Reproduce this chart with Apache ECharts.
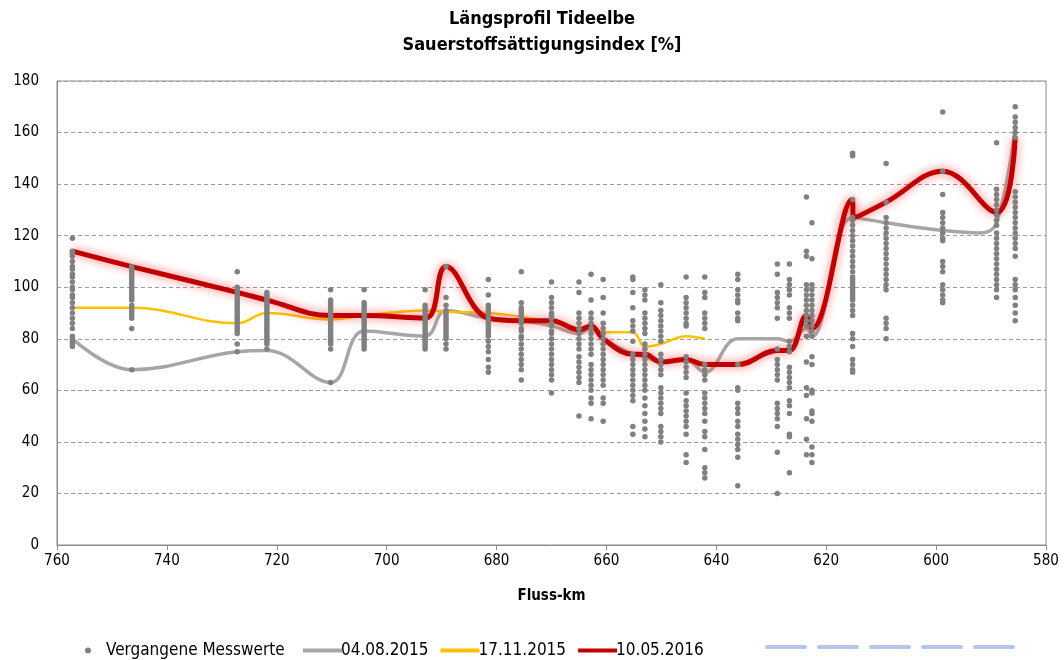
<!doctype html>
<html>
    <head>
        <meta charset="utf-8">
        <title>Längsprofil Tideelbe</title>
        <style>
            html, body { margin: 0; padding: 0; background: #fff; }
            #main { width: 1064px; height: 660px; }
        </style>
    </head>
    <body>
        <div id="main"></div>
        <script src="https://cdn.jsdelivr.net/npm/echarts@6/dist/echarts.min.js"></script>
        <script>
            // Messstellen (Fluss-km) der vergangenen Messwerte
            var stationKm = [757.2, 746.4, 727.2, 721.8, 710.2, 704.1, 693.0, 689.2, 681.5, 675.5,
                670.0, 665.0, 662.8, 660.6, 655.2, 653.0, 650.1, 645.5, 642.1, 636.1,
                628.9, 626.7, 623.6, 622.6, 615.2, 609.1, 598.8, 589.0, 585.6];

            // Vergangene Messwerte je Messstelle (gleiche Reihenfolge wie stationKm)
            var pastValues = [
                [119, 114, 113, 112, 110, 108, 107, 105, 104, 102, 100, 99, 97, 96, 94, 92, 90, 88, 86, 84, 81, 80, 79, 78, 77],
                [108, 107, 106, 105, 104, 103, 102, 101, 100, 99, 98, 97, 96, 95, 93, 92, 91, 90, 89, 88, 84, 68],
                [106, 100, 99, 98, 97, 96, 95, 94, 93, 92, 91, 90, 89, 88, 87, 86, 85, 84, 83, 82, 78, 75],
                [98, 97, 96, 95, 94, 93, 92, 91, 90, 89, 88, 87, 86, 85, 84, 83, 82, 81, 80, 79, 78, 76],
                [99, 95, 94, 93, 92, 91, 90, 89, 88, 87, 86, 85, 84, 83, 82, 81, 80, 79, 78, 76, 63],
                [99, 94, 93, 92, 91, 90, 89, 88, 87, 86, 85, 84, 83, 82, 81, 80, 79, 78, 77, 76],
                [99, 93, 92, 91, 90, 89, 88, 87, 86, 85, 84, 83, 82, 81, 80, 79, 78, 77, 76],
                [108, 96, 93, 91, 90, 89, 88, 87, 86, 85, 84, 83, 82, 81, 80, 78, 76],
                [103, 97, 93, 92, 91, 90, 89, 88, 87, 86, 85, 84, 83, 82, 81, 79, 77, 75, 72, 69, 67],
                [106, 94, 92, 91, 90, 89, 88, 87, 86, 84, 83, 81, 80, 78, 76, 74, 72, 70, 68, 64],
                [102, 96, 94, 92, 90, 89, 88, 86, 85, 83, 82, 80, 78, 76, 74, 72, 70, 68, 66, 64, 59],
                [102, 98, 90, 88, 86, 84, 82, 80, 78, 76, 73, 71, 69, 67, 65, 63, 50],
                [105, 95, 90, 88, 86, 84, 82, 80, 78, 76, 74, 70, 68, 66, 64, 62, 60, 57, 55, 49],
                [103, 96, 90, 86, 84, 82, 80, 78, 76, 74, 72, 70, 68, 66, 64, 62, 57, 55, 48],
                [104, 103, 98, 92, 87, 85, 83, 79, 74, 72, 70, 68, 66, 64, 62, 60, 58, 56, 46, 43],
                [99, 97, 95, 90, 88, 86, 84, 82, 78, 76, 74, 72, 70, 68, 66, 64, 62, 60, 57, 54, 51, 48, 45, 42],
                [101, 94, 91, 89, 87, 85, 83, 81, 79, 74, 72, 70, 68, 66, 61, 59, 57, 55, 53, 51, 46, 44, 42, 40],
                [104, 96, 94, 92, 90, 88, 86, 85, 73, 71, 69, 67, 65, 59, 56, 54, 52, 50, 48, 46, 43, 35, 32],
                [104, 98, 96, 90, 88, 86, 84, 70, 68, 66, 64, 59, 57, 55, 53, 51, 48, 44, 42, 37, 30, 28, 26],
                [105, 103, 99, 97, 95, 94, 90, 88, 87, 70, 61, 60, 55, 53, 51, 48, 46, 43, 41, 39, 37, 34, 23],
                [109, 105, 98, 96, 94, 92, 88, 76, 72, 70, 68, 66, 64, 55, 53, 51, 49, 46, 36, 20],
                [109, 103, 101, 99, 97, 92, 90, 88, 79, 77, 75, 69, 67, 65, 63, 61, 56, 54, 51, 43, 42, 28],
                [135, 114, 112, 101, 99, 97, 95, 93, 91, 89, 87, 85, 81, 71, 61, 58, 49, 41, 35],
                [125, 111, 101, 99, 97, 95, 93, 91, 89, 87, 85, 83, 81, 73, 70, 60, 59, 52, 51, 48, 38, 35, 32],
                [152, 151, 134, 127, 126, 124, 122, 120, 118, 116, 114, 112, 110, 108, 106, 104, 103, 102, 101, 100,
                    99, 98, 97, 96, 95, 93, 91, 89, 82, 80, 77, 72, 70, 68, 67],
                [148, 133, 127, 125, 123, 121, 119, 117, 115, 113, 111, 109, 107, 105, 103, 101, 99, 88, 86, 84, 80],
                [168, 145, 136, 129, 127, 125, 123, 121, 119, 118, 110, 108, 106, 101, 99, 97, 95, 94],
                [156, 138, 136, 134, 132, 130, 128, 126, 124, 121, 119, 117, 115, 113, 111, 109, 107, 105, 103, 101, 99, 96],
                [170, 166, 164, 162, 160, 158, 137, 135, 133, 131, 129, 127, 125, 123, 121, 119, 117, 115, 112,
                    103, 101, 99, 96, 93, 90, 87]
            ];

            // 04.08.2015
            var km20150804 = [757.2, 746.4, 727.2, 721.8, 710.2, 704.1, 693.0, 689.2, 681.5, 675.5, 670.0, 665.0,
                662.8, 660.6, 655.2, 653.0, 650.1, 645.5, 642.1, 636.1, 628.9, 626.7, 623.6, 622.6, 615.2, 609.1,
                598.8, 592.0, 589.0, 585.6];
            var val20150804 = [80, 68, 75, 75.5, 63, 83, 81, 91, 88, 87, 85, 82, 84, 80, 74, 73, 71, 72, 67, 80, 80,
                79, 84, 81, 127, 125, 122, 121, 125, 162];

            // 17.11.2015
            var km20151117 = [757.2, 746.4, 727.2, 721.8, 710.2, 704.1, 693.0, 689.2, 681.5, 675.5, 670.0, 665.0,
                662.8, 660.6, 655.2, 653.0, 650.1, 645.5, 642.1];
            var val20151117 = [92, 92, 86, 90, 87.5, 89, 91, 90.5, 90, 88.5, 86.5, 84, 84, 82.5, 82.5, 77, 78, 81, 80];

            // 10.05.2016
            var km20160510 = [757.2, 746.4, 727.2, 721.8, 710.2, 704.1, 693.0, 689.2, 681.5, 675.5, 670.0, 665.0,
                662.8, 660.6, 655.2, 653.0, 650.1, 645.5, 642.1, 636.1, 628.9, 626.7, 623.6, 622.6, 615.3, 615.0,
                609.1, 598.8, 589.0, 585.6];
            var val20160510 = [114, 108, 98, 95, 89, 89, 88, 108, 88, 87, 87, 83.5, 85, 80, 74, 74, 71, 72, 70, 70,
                75.5, 75.5, 89, 84, 134, 127, 133, 145, 129, 158];

            function pairs(xs, ys) {
                return xs.map(function (x, i) { return [x, ys[i]]; });
            }

            var scatterData = [];
            stationKm.forEach(function (km, i) {
                pastValues[i].forEach(function (v) { scatterData.push([km, v]); });
            });

            var font = '"Liberation Sans Narrow", "DejaVu Sans Condensed", Roboto, sans-serif';
            var chart = echarts.init(document.getElementById('main'));

            chart.setOption({
                animation: false,
                backgroundColor: '#fff',
                textStyle: { fontFamily: font },
                title: {
                    text: 'Längsprofil Tideelbe\nSauerstoffsättigungsindex [%]',
                    left: 537,
                    textAlign: 'center',
                    top: 1,
                    textStyle: {
                        fontFamily: font,
                        fontSize: 18,
                        fontWeight: 'bold',
                        color: '#000',
                        lineHeight: 26
                    }
                },
                grid: {
                    left: 57,
                    right: 18,
                    top: 81,
                    bottom: 115,
                    show: true,
                    borderColor: '#8c8c8c',
                    borderWidth: 1
                },
                legend: [{
                    left: 80,
                    top: 637,
                    itemWidth: 6,
                    itemHeight: 6,
                    textStyle: { fontSize: 17, color: '#000', fontFamily: font, padding: [0, 0, 0, 10] },
                    data: [{ name: 'Vergangene Messwerte', icon: 'circle' }]
                }, {
                    left: 298,
                    top: 637,
                    itemWidth: 39,
                    itemHeight: 4,
                    itemGap: 12,
                    icon: 'rect',
                    textStyle: { fontSize: 17, color: '#000', fontFamily: font, padding: [0, 0, 0, -6] },
                    data: ['04.08.2015', '17.11.2015', '10.05.2016']
                }],
                xAxis: {
                    type: 'value',
                    inverse: true,
                    min: 580,
                    max: 760,
                    interval: 20,
                    name: 'Fluss-km',
                    nameLocation: 'middle',
                    nameGap: 44,
                    nameTextStyle: { fontSize: 15, fontWeight: 'bold', color: '#000', fontFamily: font },
                    axisLine: { lineStyle: { color: '#8c8c8c' } },
                    axisTick: { show: true, length: 5, lineStyle: { color: '#8c8c8c' } },
                    axisLabel: { fontSize: 15, color: '#000', margin: 9, fontFamily: font },
                    splitLine: { show: false }
                },
                yAxis: {
                    type: 'value',
                    min: 0,
                    max: 180,
                    interval: 20,
                    axisLine: { show: true, lineStyle: { color: '#8c8c8c' } },
                    axisTick: { show: false },
                    axisLabel: { fontSize: 15, color: '#000', margin: 18, fontFamily: font },
                    splitLine: { show: true, lineStyle: { color: '#9a9a9a', type: [4, 3], width: 1 } }
                },
                graphic: [0, 1, 2, 3, 4].map(function (i) {
                    return {
                        type: 'line',
                        shape: { x1: 767 + i * 52, y1: 647, x2: 767 + i * 52 + 38, y2: 647 },
                        style: { stroke: '#b4c7e7', lineWidth: 4, lineCap: 'round' }
                    };
                }),
                series: [{
                    name: '04.08.2015',
                    type: 'line',
                    data: pairs(km20150804, val20150804),
                    smooth: 0.4,
                    showSymbol: false,
                    symbol: 'none',
                    z: 2,
                    itemStyle: { color: '#a6a6a6' },
                    lineStyle: { color: '#a6a6a6', width: 3.5 }
                }, {
                    name: '17.11.2015',
                    type: 'line',
                    data: pairs(km20151117, val20151117),
                    smooth: 0.4,
                    showSymbol: false,
                    symbol: 'none',
                    z: 3,
                    itemStyle: { color: '#ffc000' },
                    lineStyle: { color: '#ffc000', width: 2.5 }
                }, {
                    name: '10.05.2016',
                    type: 'line',
                    data: pairs(km20160510, val20160510),
                    smooth: 0.4,
                    showSymbol: false,
                    symbol: 'none',
                    z: 4,
                    itemStyle: { color: '#c00000' },
                    lineStyle: {
                        color: '#c00000',
                        width: 5,
                        shadowBlur: 10,
                        shadowColor: 'rgba(255, 60, 60, 0.75)'
                    }
                }, {
                    name: 'Vergangene Messwerte',
                    type: 'scatter',
                    data: scatterData,
                    symbolSize: 5.5,
                    z: 5,
                    itemStyle: { color: '#808080', opacity: 1 }
                }]
            });
        </script>
    </body>
</html>
